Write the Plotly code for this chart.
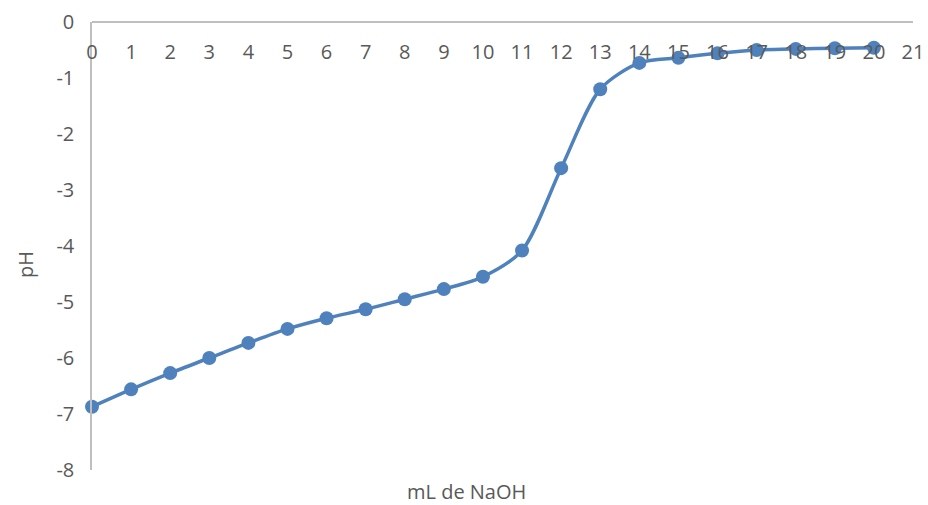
import plotly.graph_objects as go

# Titration curve: volume of NaOH added (mL) vs pH reading
ml_naoh = [0, 1, 2, 3, 4, 5, 6, 7, 8, 9, 10, 11, 12, 13, 14, 15, 16, 17, 18, 19, 20]
ph_values = [-6.87, -6.56, -6.27, -6.00, -5.73, -5.48, -5.29, -5.13, -4.95, -4.77,
             -4.55, -4.08, -2.61, -1.20, -0.73, -0.64, -0.56, -0.50, -0.48, -0.47, -0.46]

x_ticks = list(range(0, 22))
y_ticks = list(range(-8, 1))

LINE_BLUE = "#4F81BD"
TEXT_GREY = "#595959"
AXIS_GREY = "#BFBFBF"
FONT = "Open Sans"

fig = go.Figure()
fig.add_trace(go.Scatter(
    x=ml_naoh, y=ph_values,
    mode="lines+markers",
    line=dict(color=LINE_BLUE, width=3.5, shape="spline", smoothing=0.8),
    marker=dict(color=LINE_BLUE, size=14),
    showlegend=False,
    cliponaxis=False,
))

plot_l, plot_r, plot_t, plot_b = 92, 928 - 15, 22, 505 - 35

fig.update_layout(
    width=928, height=505,
    margin=dict(l=plot_l, r=928 - plot_r, t=plot_t, b=505 - plot_b, autoexpand=False),
    paper_bgcolor="white", plot_bgcolor="white",
    font=dict(family=FONT, color=TEXT_GREY, size=18),
    # x axis line sits at pH = 0 (top edge), labels hang below it
    xaxis=dict(
        range=[0, 21], side="bottom", anchor="free", position=1,
        tickvals=x_ticks, ticktext=[str(v) for v in x_ticks],
        ticklabelstandoff=12,
        showline=True, linecolor=AXIS_GREY, linewidth=1.5,
        showgrid=False, zeroline=False, ticks="",
        tickfont=dict(size=20, color=TEXT_GREY, family=FONT),
        automargin=False,
    ),
    yaxis=dict(
        range=[-8, 0],
        tickvals=y_ticks, ticktext=[str(v) for v in y_ticks],
        showline=True, linecolor=AXIS_GREY, linewidth=1.5,
        showgrid=False, zeroline=False, ticks="",
        ticklabelstandoff=12,
        tickfont=dict(size=20, color=TEXT_GREY, family=FONT),
        automargin=False,
    ),
)

def px_to_paper(px, py):
    return ((px - plot_l) / (plot_r - plot_l), (plot_b - py) / (plot_b - plot_t))

ax, ay = px_to_paper(466, 491)
bx, by = px_to_paper(25, 265)
fig.add_annotation(text="mL de NaOH", x=ax, y=ay, xref="paper", yref="paper",
                   xanchor="center", yanchor="middle", showarrow=False,
                   font=dict(size=20, color=TEXT_GREY, family=FONT))
fig.add_annotation(text="pH", x=bx, y=by, xref="paper", yref="paper",
                   xanchor="center", yanchor="middle", textangle=-90, showarrow=False,
                   font=dict(size=20, color=TEXT_GREY, family=FONT))

fig.write_html("out.html")
